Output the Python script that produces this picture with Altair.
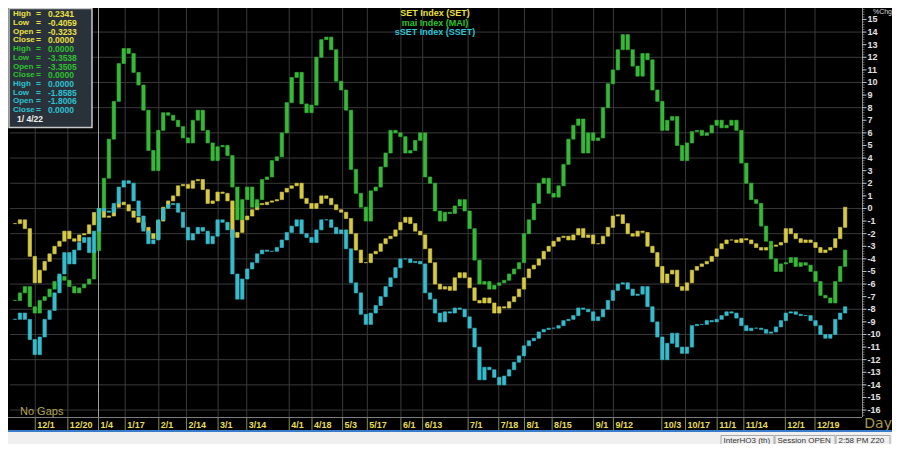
import altair as alt
import pandas as pd

# ---------------- data ----------------
SERIES = ["SET", "MAI", "SSET"]
TITLES = ["SET Index (SET)", "mai Index (MAI)", "sSET Index (SSET)"]
COLORS = ["#d6ca44", "#38b838", "#36bccc"]
TEXT_COLORS = ["#ece044", "#2fc22f", "#2ec2d2"]

# % change closes, one bar per ~1.6 trading days (bar 17 = 1/4/22 = base)
SET_CLOSE = [
    -1.2, -0.9, -1.6, -3.8, -5.9, -4.9, -4.2, -3.6, -3.0, -2.6,
    -1.8, -2.4, -2.6, -2.1, -2.0, -1.3, -0.32, 0.0, -0.7, -0.6,
    0.1, 0.5, 0.3, -0.2, -0.7, -1.1, -1.5, -2.0, -2.4, -1.0,
    0.1, 0.6, 1.0, 1.8, 1.9, 1.6, 2.2, 2.3, 1.5, 0.4,
    0.6, 1.3, 1.2, 0.6, -2.3, -1.9, -0.9, -0.6, -0.1, 0.4,
    0.3, 0.5, 0.6, 0.7, 1.3, 1.6, 1.8, 2.0, 0.8, 0.4,
    0.0, 0.4, 1.0, 0.8, 0.3, -0.1, -0.3, -0.8, -2.0, -3.3,
    -4.3, -4.3, -3.6, -3.4, -2.8, -2.4, -2.2, -1.7, -1.1, -0.7,
    -1.2, -1.8, -2.1, -3.2, -4.3, -6.0, -6.4, -6.2, -6.5, -5.5,
    -5.1, -5.5, -6.3, -7.3, -7.5, -7.1, -7.5, -8.3, -7.8, -7.9,
    -7.4, -7.0, -6.4, -5.5, -4.8, -4.5, -4.0, -3.4, -3.0, -2.6,
    -2.3, -2.2, -2.5, -2.1, -1.6, -2.3, -2.1, -2.8, -2.8, -2.2,
    -1.5, -0.6, -0.5, -1.2, -2.0, -2.2, -1.8, -1.9, -3.0, -3.5,
    -4.6, -5.9, -5.2, -4.9, -6.2, -6.5, -5.9, -4.9, -4.6, -4.4,
    -4.2, -3.8, -3.2, -2.8, -2.5, -2.5, -2.7, -2.4, -2.5, -2.8,
    -3.1, -3.3, -3.1, -3.0, -2.9, -2.7, -1.6, -2.0, -2.4, -2.7,
    -2.5, -2.7, -3.1, -3.5, -3.3, -3.1, -2.4, -1.5, 0.1,
]
MAI_CLOSE = [
    -7.3, -6.7, -6.2, -7.8, -8.3, -7.3, -7.0, -6.4, -5.8, -5.4,
    -5.7, -6.2, -6.7, -6.3, -6.0, -5.6, -3.35, 0.0, 2.4, 5.5,
    8.5, 11.5, 12.7, 12.3, 10.8, 9.8, 7.8, 4.6, 3.0, 6.2,
    7.6, 7.4, 7.0, 6.5, 5.6, 5.2, 7.0, 7.8, 6.2, 5.2,
    3.8, 4.9, 5.0, 4.2, 1.7, -0.9, 0.7, 1.7, 0.1, 0.7,
    2.3, 2.5, 3.8, 4.1, 6.0, 8.4, 10.4, 10.8, 8.3, 7.6,
    8.2, 12.0, 13.4, 13.6, 12.6, 10.1, 9.4, 7.8, 3.1, 1.2,
    0.1, -1.0, 1.4, 1.7, 3.3, 4.4, 6.2, 6.0, 5.7, 4.4,
    4.6, 5.4, 6.0, 2.5, 2.0, -0.2, -1.0, -0.3, -0.4, 0.2,
    0.7, -0.2, -1.6, -4.1, -6.0, -5.8, -6.4, -6.1, -5.9, -5.7,
    -5.2, -4.8, -4.3, -2.0, -0.9, 0.4, 2.0, 2.4, 1.2, 0.9,
    1.8, 3.5, 5.5, 6.6, 7.1, 4.4, 6.0, 5.4, 5.6, 8.0,
    9.9, 11.0, 12.6, 13.8, 12.6, 11.3, 10.5, 12.3, 11.8, 9.4,
    8.5, 6.2, 7.0, 7.3, 5.0, 3.8, 5.2, 6.1, 6.2, 5.8,
    6.0, 6.6, 7.0, 6.4, 6.6, 7.0, 6.2, 3.6, 2.0, 0.7,
    0.4, -1.4, -2.6, -4.0, -5.0, -4.4, -4.3, -3.9, -4.6, -4.3,
    -4.5, -5.0, -5.8, -6.9, -7.1, -7.5, -5.8, -4.6, -3.3,
]
SSET_CLOSE = [
    -8.8, -8.3, -8.8, -10.4, -11.6, -10.2, -8.8, -8.1, -6.7, -5.2,
    -3.5, -4.4, -3.3, -2.7, -2.3, -3.5, -1.80, 0.0, -0.2, -0.3,
    0.4, 1.7, 2.2, 2.0, 0.6, -0.6, -1.8, -2.8, -2.5, -0.9,
    0.0, 0.3, 0.4, -0.3, -1.5, -2.5, -2.0, -1.5, -1.8, -2.8,
    -2.2, -0.9, -1.1, -1.7, -5.2, -7.2, -5.6, -4.8, -4.3, -3.6,
    -3.3, -3.4, -3.4, -3.1, -2.5, -1.9, -1.4, -0.9, -2.0, -2.3,
    -2.7, -1.7, -0.9, -0.9, -1.5, -2.0, -1.7, -3.2, -5.9, -6.7,
    -8.4, -9.2, -8.3, -7.7, -7.0, -6.2, -5.5, -4.7, -4.0, -4.0,
    -4.3, -4.2, -4.4, -6.7, -7.2, -8.3, -9.0, -8.2, -8.3, -7.9,
    -8.0, -8.6, -9.5, -11.0, -13.6, -12.6, -12.8, -13.4, -14.0, -13.3,
    -12.8, -12.2, -11.7, -10.9, -10.5, -10.3, -9.8, -9.6, -9.5, -9.5,
    -9.3, -8.9, -8.8, -8.5, -7.9, -8.0, -8.2, -8.9, -8.6, -8.0,
    -7.3, -6.5, -6.0, -5.9, -6.4, -6.9, -6.8, -6.2, -7.8, -9.0,
    -10.2, -12.0, -10.7, -9.9, -11.0, -11.5, -11.0, -9.3, -9.2, -9.2,
    -8.9, -9.0, -8.8, -8.5, -8.2, -8.3, -8.7, -9.3, -9.7, -9.5,
    -9.5, -9.6, -9.9, -9.8, -9.4, -8.9, -8.3, -8.2, -8.4, -8.5,
    -8.5, -8.9, -9.3, -10.0, -10.3, -10.0, -8.8, -8.3, -7.8,
]

TICK_LABELS = ["12/1", "12/20", "1/4", "1/17", "2/1", "2/14", "3/1", "3/14",
               "4/1", "4/18", "5/3", "5/17", "6/1", "6/13", "7/1", "7/18",
               "8/1", "8/15", "9/1", "9/12", "10/3", "10/17", "11/1", "11/14",
               "12/1", "12/19"]
TICK_POS = [4.1, 10.7, 16.9, 22.3, 29.1, 34.7, 41.1, 46.9, 55.5, 60.1,
            66.3, 71.3, 78.1, 82.5, 91.7, 97.9, 103.1, 108.7, 117.1, 121.1,
            130.9, 135.7, 142.1, 147.5, 155.9, 161.9]

Y_LABELS = list(range(-16, 16))
GRID_Y = list(range(-16, 15, 2))

LEG_NAMES = ["High", "Low", "Open", "Close"]
LEG_VALUES = [
    ["0.2341", "-0.4059", "-0.3233", "0.0000"],
    ["0.0000", "-3.3538", "-3.3505", "0.0000"],
    ["0.0000", "-1.8585", "-1.8006", "0.0000"],
]
CURSOR_DATE = "1/ 4/22"
STATUS = ["InterHO3 (th)", "Session OPEN", "2:58 PM Z20"]

# ---------------- build ----------------
W, H = 852, 409
FONT = "Liberation Sans"

rows = []
for name, closes in zip(SERIES, [SET_CLOSE, MAI_CLOSE, SSET_CLOSE]):
    prev = closes[0]
    for k, c in enumerate(closes):
        rows.append({"series": name, "k": k, "open": prev, "close": c})
        prev = c
bars_df = pd.DataFrame(rows)
ticks_df = pd.DataFrame({"pos": TICK_POS, "label": TICK_LABELS})
ylab_df = pd.DataFrame({"v": Y_LABELS, "t": [str(v) for v in Y_LABELS]})

xscale = alt.Scale(domain=[0, 170.4], nice=False, zero=False)
yscale = alt.Scale(domain=[-16.55, 15.91], nice=False, zero=False)
cscale = alt.Scale(domain=SERIES, range=COLORS)
one = pd.DataFrame({"a": [0]})


def txt(text, x, y, color, size=9, weight="bold", align="left",
        baseline="middle", font=FONT):
    return alt.Chart(one).mark_text(
        text=text, color=color, fontSize=size, fontWeight=weight,
        align=align, baseline=baseline, font=font
    ).encode(x=alt.value(x), y=alt.value(y))


layers = []

# grid
layers.append(alt.Chart(pd.DataFrame({"v": GRID_Y})).mark_rule(
    color="#3a3a3a", strokeWidth=1).encode(
    y=alt.Y("v:Q", scale=yscale, axis=None)))
layers.append(alt.Chart(ticks_df).mark_rule(color="#3a3a3a", strokeWidth=1).encode(
    x=alt.X("pos:Q", scale=xscale, axis=None),
    y=alt.value(0), y2=alt.value(H)))
# cursor line at 1/4
layers.append(alt.Chart(ticks_df.iloc[[2]]).mark_rule(color="#a0a0a0", strokeWidth=1).encode(
    x=alt.X("pos:Q", scale=xscale, axis=None),
    y=alt.value(0), y2=alt.value(H)))

# right axis: domain, minor ruler, major ticks, labels
layers.append(alt.Chart(one).mark_rule(color="#8a8a8a", strokeWidth=1).encode(
    x=alt.value(W + 0.5), y=alt.value(0), y2=alt.value(H)))
minor = [round(-16.4 + 0.2 * i, 2) for i in range(162)]
layers.append(alt.Chart(pd.DataFrame({"m": minor})).mark_rule(
    color="#8a8a8a", strokeWidth=0.8).encode(
    y=alt.Y("m:Q", scale=yscale, axis=None),
    x=alt.value(W), x2=alt.value(W + 2.5)))
layers.append(alt.Chart(ylab_df).mark_rule(color="#c0c0c0", strokeWidth=1).encode(
    y=alt.Y("v:Q", scale=yscale, axis=None),
    x=alt.value(W), x2=alt.value(W + 4.5)))
layers.append(alt.Chart(ylab_df).mark_text(
    align="left", baseline="middle", color="#e2e2e2", font=FONT,
    fontSize=9, fontWeight="bold").encode(
    y=alt.Y("v:Q", scale=yscale, axis=None),
    x=alt.value(W + 5.5), text="t:N"))

# candle bars
layers.append(alt.Chart(bars_df).mark_bar(size=3.4, strokeWidth=0.6).encode(
    x=alt.X("k:Q", scale=xscale, axis=None),
    y=alt.Y("open:Q", scale=yscale, axis=None),
    y2="close:Q",
    color=alt.Color("series:N", scale=cscale, legend=None),
    stroke=alt.Stroke("series:N", scale=cscale, legend=None),
))

# titles
for i, (t, c) in enumerate(zip(TITLES, TEXT_COLORS)):
    layers.append(txt(t, 425, 5 + 9.7 * i, c, size=9, align="center"))
layers.append(txt("%Chg", 882, 0, "#d8d8d8", size=7, weight="normal",
                  align="right", baseline="top"))

# legend box
layers.append(alt.Chart(one).mark_rect(fill="#29313b", stroke="#c8c8c8", strokeWidth=1.5).encode(
    x=alt.value(-1), x2=alt.value(82), y=alt.value(0.5), y2=alt.value(119.5)))
line = 0
for s in range(3):
    for j in range(4):
        yy = 6.3 + 8.7 * line
        col = TEXT_COLORS[s]
        layers.append(txt(LEG_NAMES[j], 3, yy, col, size=8))
        layers.append(txt("=", 28.5, yy, col, size=8.5, align="center"))
        layers.append(txt(LEG_VALUES[s][j], 38, yy, col, size=8.5))
        line += 1
layers.append(txt(CURSOR_DATE, 7, 6.3 + 8.7 * 12, "#f0f0f0", size=8.5))

# in-plot annotations
layers.append(txt("No  Gaps", 10, 404, "#b4a450", size=11, weight="normal"))
layers.append(txt("Day", 882, 420, "#a89a55", size=14, weight="normal",
                  align="right", baseline="alphabetic", font="DejaVu Sans"))

# date strip
layers.append(alt.Chart(one).mark_rule(color="#7c7c7c", strokeWidth=1).encode(
    x=alt.value(-2), x2=alt.value(W), y=alt.value(H + 0.5)))
layers.append(alt.Chart(ticks_df).mark_rule(color="#8a8a5a", strokeWidth=1).encode(
    x=alt.X("pos:Q", scale=xscale, axis=None),
    y=alt.value(H + 1), y2=alt.value(H + 13)))
layers.append(alt.Chart(ticks_df).mark_text(
    align="left", baseline="middle", dx=2, color="#e8df52",
    font=FONT, fontSize=9, fontWeight="bold").encode(
    x=alt.X("pos:Q", scale=xscale, axis=None),
    y=alt.value(H + 7.5), text="label:N"))
layers.append(alt.Chart(one).mark_rule(color="#3a7ccc", strokeWidth=2).encode(
    x=alt.value(-2), x2=alt.value(884), y=alt.value(H + 14)))

# status bar
layers.append(alt.Chart(one).mark_rect(fill="#efefef").encode(
    x=alt.value(-2), x2=alt.value(884), y=alt.value(H + 15), y2=alt.value(H + 30)))
boxes = [(711, 764), (765, 825), (826, 880)]
for (a, b), t in zip(boxes, STATUS):
    layers.append(alt.Chart(one).mark_rect(fill="#efefef", stroke="#a8a8a8", strokeWidth=1).encode(
        x=alt.value(a), x2=alt.value(b), y=alt.value(H + 18.5), y2=alt.value(H + 30)))
    layers.append(txt(t, a + 2.5, H + 23.5, "#333333", size=8, weight="normal"))

chart = alt.layer(*layers).properties(
    width=W, height=H, background="#000000",
    padding={"left": 2, "top": 0, "right": 30, "bottom": 27},
    autosize=alt.AutoSizeParams(type="none"),
).configure_view(strokeWidth=0)

chart.save("out.html", embed_options={"renderer": "svg", "actions": False})
